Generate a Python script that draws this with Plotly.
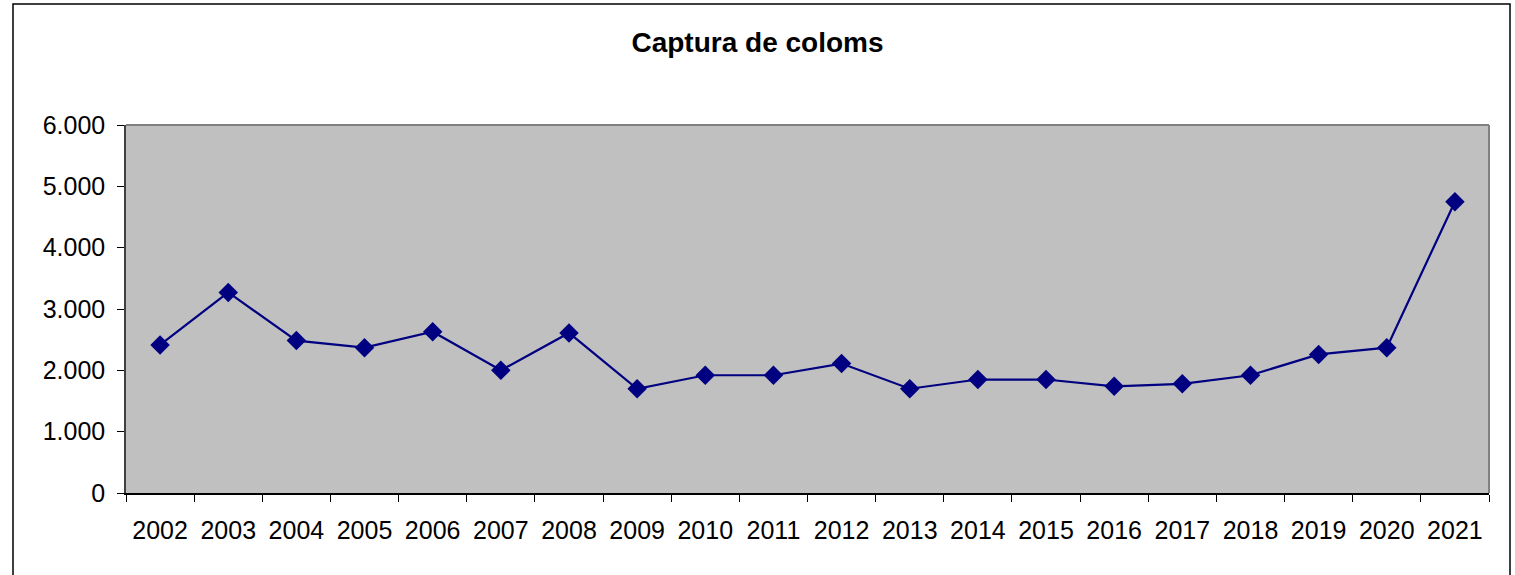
import plotly.graph_objects as go

years = ["2002", "2003", "2004", "2005", "2006", "2007", "2008", "2009", "2010", "2011",
         "2012", "2013", "2014", "2015", "2016", "2017", "2018", "2019", "2020", "2021"]
captures = [2415, 3270, 2485, 2370, 2630, 2000, 2610, 1700, 1920, 1920,
            2110, 1700, 1850, 1850, 1740, 1780, 1920, 2260, 2370, 4750]
y_tickvals = [0, 1000, 2000, 3000, 4000, 5000, 6000]
y_ticktext = ["0", "1.000", "2.000", "3.000", "4.000", "5.000", "6.000"]

W, H = 1515, 575
L, R, T, B = 126, 26, 125, 82
pw, ph = W - L - R, H - T - B

fig = go.Figure()
fig.add_trace(go.Scatter(
    x=years, y=captures, mode="lines+markers",
    line=dict(color="#000080", width=2.2),
    marker=dict(symbol="diamond", size=15, color="#000080"),
    showlegend=False,
))

def px_x(p):
    return (p - L) / pw

def px_y(p):
    return (H - B - p) / ph

fig.update_layout(
    width=W, height=H,
    margin=dict(l=L, r=R, t=T, b=B),
    paper_bgcolor="white",
    plot_bgcolor="#C0C0C0",
    font=dict(family="Liberation Sans, Arial, sans-serif", color="black"),
    title=dict(text="<b>Captura de coloms</b>", x=0.5, xanchor="center",
               y=1 - 42 / H, yanchor="middle",
               font=dict(size=28, color="black")),
    xaxis=dict(type="category", tickson="boundaries", ticks="outside", ticklen=7,
               tickcolor="black", showline=True, linecolor="#000000", linewidth=1.5,
               mirror=False, showgrid=False, tickfont=dict(size=25),
               ticklabelstandoff=14, range=[-0.5, 19.5]),
    yaxis=dict(range=[0, 6000], tickvals=y_tickvals, ticktext=y_ticktext,
               ticks="outside", ticklen=7, tickcolor="black",
               showline=True, linecolor="#404040", linewidth=1.5,
               showgrid=False, zeroline=False, tickfont=dict(size=25),
               ticklabelstandoff=7),
    shapes=[
        dict(type="line", xref="paper", yref="paper", x0=0, x1=1, y0=1, y1=1,
             line=dict(color="#808080", width=2)),
        dict(type="line", xref="paper", yref="paper", x0=1, x1=1, y0=0, y1=1,
             line=dict(color="#808080", width=2)),
        dict(type="rect", xref="paper", yref="paper",
             x0=px_x(13), x1=px_x(1510), y0=px_y(590), y1=px_y(4),
             line=dict(color="black", width=1.5), fillcolor="rgba(0,0,0,0)",
             layer="above"),
    ],
)

fig.write_html("out.html", config={"displayModeBar": False})

with open("out.html", "r", encoding="utf-8") as f:
    html = f.read()
html = html.replace("<body>", '<body style="margin:0;overflow:hidden">', 1)
with open("out.html", "w", encoding="utf-8") as f:
    f.write(html)
